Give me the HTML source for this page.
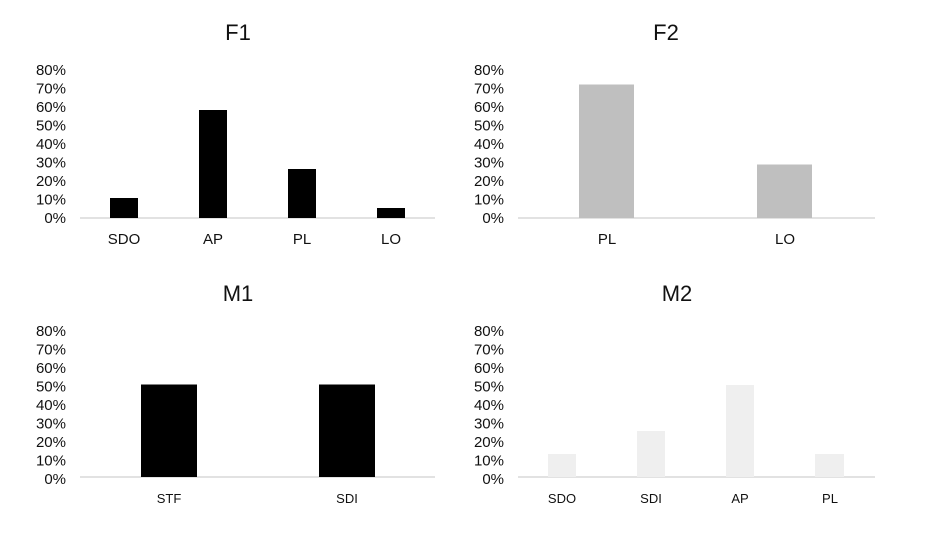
<!DOCTYPE html>
<html><head><meta charset="utf-8"><style>
body{margin:0;background:#fff}
svg text{font-family:"Liberation Sans",sans-serif;fill:#111}
</style></head><body>
<svg width="941" height="531" xmlns="http://www.w3.org/2000/svg">
<g font-size="15" text-anchor="end">
<text x="66" y="75">80%</text><text x="66" y="93.5">70%</text><text x="66" y="112">60%</text><text x="66" y="130.5">50%</text><text x="66" y="149">40%</text><text x="66" y="167.5">30%</text><text x="66" y="186">20%</text><text x="66" y="204.5">10%</text><text x="66" y="223">0%</text>
<text x="504" y="75">80%</text><text x="504" y="93.5">70%</text><text x="504" y="112">60%</text><text x="504" y="130.5">50%</text><text x="504" y="149">40%</text><text x="504" y="167.5">30%</text><text x="504" y="186">20%</text><text x="504" y="204.5">10%</text><text x="504" y="223">0%</text>
<text x="66" y="336">80%</text><text x="66" y="354.5">70%</text><text x="66" y="373">60%</text><text x="66" y="391.5">50%</text><text x="66" y="410">40%</text><text x="66" y="428.5">30%</text><text x="66" y="447">20%</text><text x="66" y="465.5">10%</text><text x="66" y="484">0%</text>
<text x="504" y="336">80%</text><text x="504" y="354.5">70%</text><text x="504" y="373">60%</text><text x="504" y="391.5">50%</text><text x="504" y="410">40%</text><text x="504" y="428.5">30%</text><text x="504" y="447">20%</text><text x="504" y="465.5">10%</text><text x="504" y="484">0%</text>
</g>
<g font-size="22" text-anchor="middle">
<text x="238" y="40">F1</text><text x="666" y="40">F2</text>
<text x="238" y="301">M1</text><text x="677" y="301">M2</text>
</g>
<g stroke="#d9d9d9" stroke-width="1.5">
<line x1="80" y1="218" x2="435" y2="218"/><line x1="518" y1="218" x2="875" y2="218"/>
<line x1="80" y1="477" x2="435" y2="477"/><line x1="518" y1="477" x2="875" y2="477"/>
</g>
<g fill="#000">
<rect x="110" y="198" width="28" height="20"/><rect x="199" y="110" width="28" height="108"/>
<rect x="288" y="169" width="28" height="49"/><rect x="377" y="208" width="28" height="10"/>
<rect x="141" y="384.5" width="56" height="92.5"/><rect x="319" y="384.5" width="56" height="92.5"/>
</g>
<g fill="#bfbfbf">
<rect x="579" y="84.5" width="55" height="133.5"/><rect x="757" y="164.5" width="55" height="53.5"/>
</g>
<g fill="#efefef">
<rect x="548" y="454" width="28" height="23"/><rect x="637" y="431" width="28" height="46"/>
<rect x="726" y="385" width="28" height="92"/><rect x="815" y="454" width="29" height="23"/>
</g>
<g font-size="15" text-anchor="middle">
<text x="124" y="244">SDO</text><text x="213" y="244">AP</text><text x="302" y="244">PL</text><text x="391" y="244">LO</text>
<text x="607" y="244">PL</text><text x="785" y="244">LO</text>
</g>
<g font-size="13" text-anchor="middle">
<text x="169" y="503">STF</text><text x="347" y="503">SDI</text>
<text x="562" y="503">SDO</text><text x="651" y="503">SDI</text><text x="740" y="503">AP</text><text x="830" y="503">PL</text>
</g>
</svg>
</body></html>
